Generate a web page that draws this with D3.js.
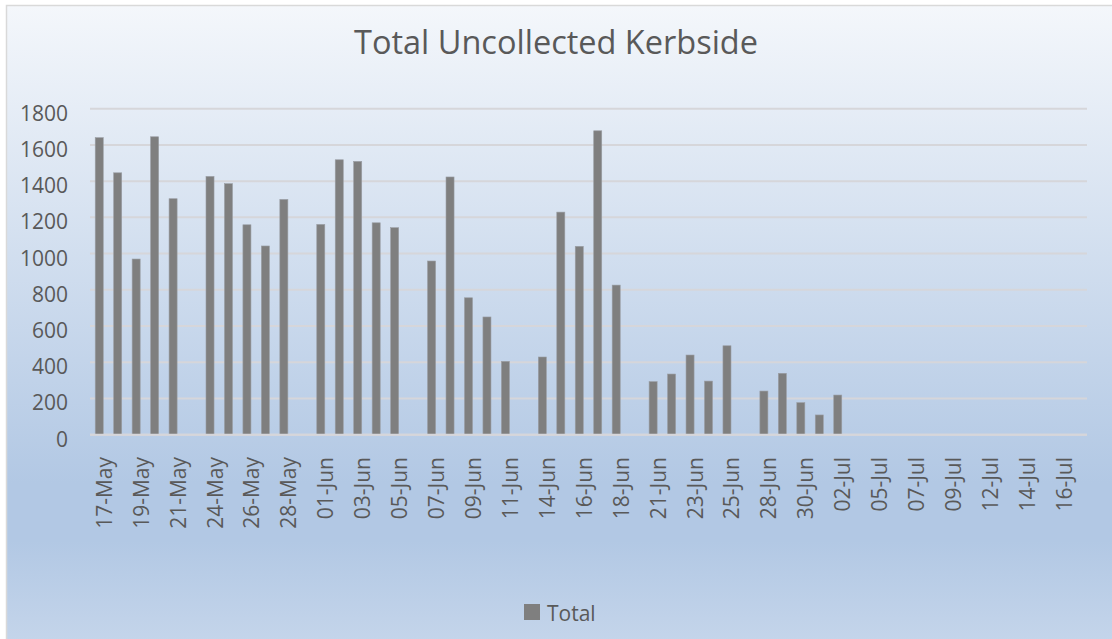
<!DOCTYPE html>
<html>
<head>
<meta charset="utf-8">
<title>Total Uncollected Kerbside</title>
<script src="https://d3js.org/d3.v7.min.js"></script>
<style>
  body { margin: 0; background: #fff; font-family: 'Open Sans', sans-serif; }
  svg { display: block; }
  text { fill: #595959; }
</style>
</head>
<body>
<script>
// data (blank days are null)
var dates = ["17-May","18-May","19-May","20-May","21-May","22-May","24-May","25-May","26-May","27-May",
  "28-May","29-May","01-Jun","02-Jun","03-Jun","04-Jun","05-Jun","06-Jun","07-Jun","08-Jun",
  "09-Jun","10-Jun","11-Jun","12-Jun","14-Jun","15-Jun","16-Jun","17-Jun","18-Jun","19-Jun",
  "21-Jun","22-Jun","23-Jun","24-Jun","25-Jun","26-Jun","28-Jun","29-Jun","30-Jun","01-Jul",
  "02-Jul","03-Jul","05-Jul","06-Jul","07-Jul","08-Jul","09-Jul","10-Jul","12-Jul","13-Jul",
  "14-Jul","15-Jul","16-Jul","17-Jul"];
var totals = [1640,1446,970,1645,1303,null,1426,1386,1159,1042,
  1299,null,1161,1518,1509,1170,1143,null,959,1423,
  756,650,405,null,429,1229,1040,1678,826,null,
  293,335,440,296,491,null,241,339,177,109,
  219,null,null,null,null,null,null,null,null,null,
  null,null,null,null];
var yTicks = [0,200,400,600,800,1000,1200,1400,1600,1800];

var W = 1112, H = 639;
var plotLeft = 90, plotRight = 1087, plotTop = 108.7, plotBottom = 434.7;

var svg = d3.select("body").append("svg").attr("width", W).attr("height", H);

// chart area background
var grad = svg.append("defs").append("linearGradient")
  .attr("id", "bg").attr("x1", 0).attr("y1", 0).attr("x2", 0).attr("y2", 1);
grad.append("stop").attr("offset", "0%").attr("stop-color", "#f4f7fb");
grad.append("stop").attr("offset", "74%").attr("stop-color", "#b2c8e4");
grad.append("stop").attr("offset", "83%").attr("stop-color", "#b2c8e4");
grad.append("stop").attr("offset", "100%").attr("stop-color", "#c6d6eb");

svg.append("rect").attr("x", 6.5).attr("y", 5.5).attr("width", 1120).attr("height", 645)
  .attr("fill", "url(#bg)").attr("stroke", "#d9d9d9").attr("stroke-width", 1.5);

var x = d3.scaleBand().domain(dates).range([plotLeft, plotRight]).paddingInner(0.565).paddingOuter(0.2825);
var y = d3.scaleLinear().domain([0, 1800]).range([plotBottom, plotTop]);

// gridlines
svg.append("g").selectAll("line").data(yTicks).enter().append("line")
  .attr("x1", plotLeft).attr("x2", plotRight)
  .attr("y1", function(d){ return y(d); }).attr("y2", function(d){ return y(d); })
  .attr("stroke", "#d6d6da").attr("stroke-width", 2);

// y labels
svg.append("g").selectAll("text").data(yTicks).enter().append("text")
  .attr("x", 68).attr("y", function(d){ return y(d) + 12; })
  .attr("text-anchor", "end").attr("font-size", "21px")
  .text(function(d){ return d; });

// bars
var data = dates.map(function(d, i){ return {date: d, v: totals[i]}; }).filter(function(d){ return d.v != null; });
svg.append("g").selectAll("rect").data(data).enter().append("rect")
  .attr("x", function(d){ return x(d.date); })
  .attr("width", x.bandwidth())
  .attr("y", function(d){ return y(d.v); })
  .attr("height", function(d){ return y(0) - y(d.v); })
  .attr("fill", "#7f7f7f").attr("stroke", "#9a9ea4").attr("stroke-width", 0.6);

// x axis line
svg.append("line").attr("x1", plotLeft).attr("x2", plotRight).attr("y1", y(0)).attr("y2", y(0))
  .attr("stroke", "#d6d6da").attr("stroke-width", 2);

// x labels, every second category
svg.append("g").selectAll("text").data(dates.filter(function(d, i){ return i % 2 == 0; })).enter().append("text")
  .attr("transform", function(d){ return "translate(" + (x(d) + x.bandwidth()/2 + 12.5) + ",457) rotate(-90)"; })
  .attr("text-anchor", "end").attr("font-size", "21px")
  .text(function(d){ return d; });

// title
svg.append("text").attr("x", 556).attr("y", 54).attr("text-anchor", "middle")
  .attr("font-size", "32.5px").text("Total Uncollected Kerbside");

// legend
svg.append("rect").attr("x", 524).attr("y", 604).attr("width", 16).attr("height", 16).attr("fill", "#7f7f7f");
svg.append("text").attr("x", 547).attr("y", 621).attr("font-size", "21px").text("Total");
</script>
</body>
</html>
